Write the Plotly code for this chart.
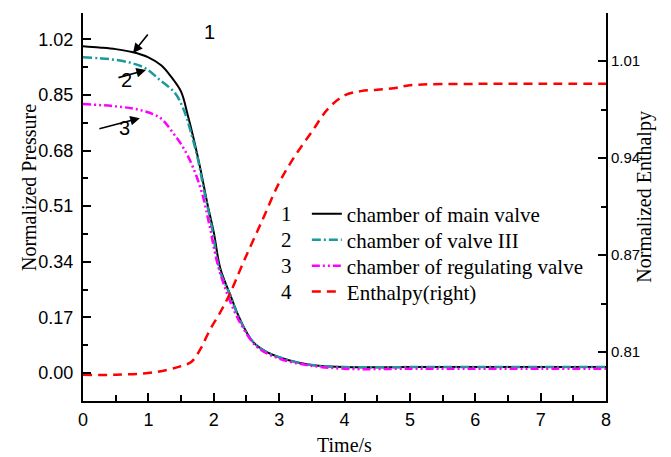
import plotly.graph_objects as go

# ---- data ----
t_main = [0, 0.25, 0.5, 0.75, 1.0, 1.2, 1.35, 1.5, 1.6, 1.7, 1.8, 1.9, 2.0, 2.1, 2.25, 2.4, 2.6, 2.8, 3.0, 3.3, 3.6, 4.0, 5.0, 6.0, 7.0, 8.0]
p_main = [0.999, 0.995, 0.99, 0.981, 0.965, 0.94, 0.905, 0.86, 0.79, 0.71, 0.62, 0.52, 0.43, 0.32, 0.24, 0.165, 0.095, 0.065, 0.048, 0.031, 0.022, 0.018, 0.018, 0.018, 0.018, 0.018]

t_v3 = [0, 0.25, 0.5, 0.75, 0.95, 1.18, 1.41, 1.55, 1.64, 1.75, 1.84, 1.97, 2.09, 2.25, 2.4, 2.6, 2.8, 3.0, 3.3, 3.6, 4.0, 5.0, 6.0, 7.0, 8.0]
p_v3 = [0.965, 0.962, 0.957, 0.947, 0.932, 0.895, 0.855, 0.8, 0.743, 0.66, 0.57, 0.446, 0.315, 0.238, 0.162, 0.095, 0.065, 0.048, 0.031, 0.022, 0.018, 0.018, 0.018, 0.018, 0.018]

t_reg = [0, 0.5, 0.87, 1.18, 1.38, 1.53, 1.68, 1.82, 1.94, 2.05, 2.2, 2.4, 2.66, 3.0, 3.4, 4.0, 5.0, 6.0, 7.0, 8.0]
p_reg = [0.822, 0.815, 0.804, 0.78, 0.733, 0.69, 0.63, 0.55, 0.446, 0.34, 0.245, 0.155, 0.08, 0.044, 0.025, 0.013, 0.013, 0.013, 0.013, 0.013]

t_h = [0, 0.5, 1.0, 1.3, 1.5, 1.66, 1.8, 1.94, 2.1, 2.25, 2.45, 2.74, 3.0, 3.25, 3.5, 3.75, 4.0, 4.25, 4.5, 4.75, 5.0, 6.0, 7.0, 8.0]
h = [0.791, 0.791, 0.7923, 0.7945, 0.797, 0.800, 0.809, 0.8218, 0.834, 0.847, 0.868, 0.897, 0.923, 0.942, 0.958, 0.974, 0.983, 0.986, 0.987, 0.988, 0.990, 0.991, 0.991, 0.991]

names = ["chamber of main valve", "chamber of valve III", "chamber of regulating valve", "Enthalpy(right)"]
numbers = ["1", "2", "3", "4"]

SERIF = "Liberation Serif, Times New Roman, serif"
SANS = "Liberation Sans, Arial, sans-serif"

fig = go.Figure()
fig.add_trace(go.Scatter(x=t_main, y=p_main, mode="lines", name=names[0], legend="legend",
                         line=dict(color="black", width=2, shape="spline")))
fig.add_trace(go.Scatter(x=t_v3, y=p_v3, mode="lines", name=names[1], legend="legend2",
                         line=dict(color="#1a9a9a", width=2.5, dash="9px,3px,2px,3px", shape="spline")))
fig.add_trace(go.Scatter(x=t_reg, y=p_reg, mode="lines", name=names[2], legend="legend3",
                         line=dict(color="#ff00ff", width=2.5, dash="8px,3px,2px,3px,2px,3px", shape="spline")))
fig.add_trace(go.Scatter(x=t_h, y=h, mode="lines", name=names[3], yaxis="y2", legend="legend4",
                         line=dict(color="#ff0000", width=2.5, dash="9px,6px", shape="spline")))

row_y = [0.482, 0.415, 0.348, 0.281]

annotations = []
# legend numbers
for i, n in enumerate(numbers):
    annotations.append(dict(text=n, xref="paper", yref="paper", x=0.39, y=row_y[i],
                            showarrow=False, xanchor="center", yanchor="middle",
                            font=dict(family=SERIF, size=21, color="black")))
# curve labels with arrows
annotations += [
    dict(text="1", x=1.94, y=1.042, xref="x", yref="y", showarrow=False,
         font=dict(family=SANS, size=20, color="black")),
    dict(text="", x=0.765, y=0.978, xref="x", yref="y", ax=16, ay=-20, showarrow=True,
         arrowhead=2, arrowsize=1.2, arrowwidth=1.6, arrowcolor="black"),
    dict(text="2", x=0.67, y=0.895, xref="x", yref="y", showarrow=False,
         font=dict(family=SANS, size=20, color="black")),
    dict(text="", x=0.963, y=0.926, xref="x", yref="y", ax=-29, ay=8, showarrow=True,
         arrowhead=2, arrowsize=1.2, arrowwidth=1.6, arrowcolor="black"),
    dict(text="3", x=0.64, y=0.749, xref="x", yref="y", showarrow=False,
         font=dict(family=SANS, size=20, color="black")),
    dict(text="", x=0.87, y=0.779, xref="x", yref="y", ax=-42, ay=11, showarrow=True,
         arrowhead=2, arrowsize=1.2, arrowwidth=1.6, arrowcolor="black"),
    # axis titles
    dict(text="Normalized Pressure", xref="paper", yref="paper", x=-0.128, y=0.549,
         textangle=-90, showarrow=False, font=dict(family=SERIF, size=20, color="black")),
    dict(text="Normalized Enthalpy", xref="paper", yref="paper", x=1.1, y=0.526,
         textangle=-90, showarrow=False, font=dict(family=SERIF, size=20, color="black")),
    dict(text="Time/s", xref="paper", yref="paper", x=0.5, y=-0.114, yanchor="middle",
         showarrow=False, font=dict(family=SERIF, size=20, color="black")),
]

leg_common = dict(x=0.428, xanchor="left", yanchor="middle", bgcolor="rgba(0,0,0,0)",
                  font=dict(family=SERIF, size=21, color="black"), borderwidth=0)

fig.update_layout(
    width=671, height=457,
    margin=dict(l=83, r=65, t=13, b=56),
    plot_bgcolor="white", paper_bgcolor="white",
    showlegend=True,
    legend=dict(y=row_y[0], **leg_common),
    legend2=dict(y=row_y[1], **leg_common),
    legend3=dict(y=row_y[2], **leg_common),
    legend4=dict(y=row_y[3], **leg_common),
    xaxis=dict(range=[0, 8], dtick=1, tick0=0, showline=True, linecolor="black", linewidth=2,
               ticks="inside", ticklen=8, tickwidth=2, tickcolor="black", showgrid=False, zeroline=False,
               tickfont=dict(family=SANS, size=18, color="black"), ticklabelstandoff=1,
               minor=dict(dtick=0.5, ticks="inside", ticklen=6, tickwidth=2, tickcolor="black", showgrid=False)),
    yaxis=dict(range=[-0.0856, 1.1004], dtick=0.17, tick0=0, tickformat=".2f", showline=True,
               linecolor="black", linewidth=2, ticks="inside", ticklen=8, tickwidth=2, tickcolor="black",
               showgrid=False, zeroline=False, tickfont=dict(family=SANS, size=18, color="black"),
               ticklabelstandoff=4,
               minor=dict(dtick=0.085, ticks="inside", ticklen=5, tickwidth=2, tickcolor="black", showgrid=False)),
    yaxis2=dict(range=[0.7730, 1.0397], overlaying="y", side="right", tick0=0.80667, dtick=0.066667,
                tickformat=".2f", showline=True, linecolor="black", linewidth=2, ticks="inside", ticklen=8,
                tickwidth=2, tickcolor="black", showgrid=False, zeroline=False,
                tickfont=dict(family=SANS, size=15, color="black"),
                minor=dict(dtick=0.033333, tick0=0.80667, ticks="inside", ticklen=5, tickwidth=2,
                           tickcolor="black", showgrid=False)),
    annotations=annotations,
)

fig.write_html("out.html")
